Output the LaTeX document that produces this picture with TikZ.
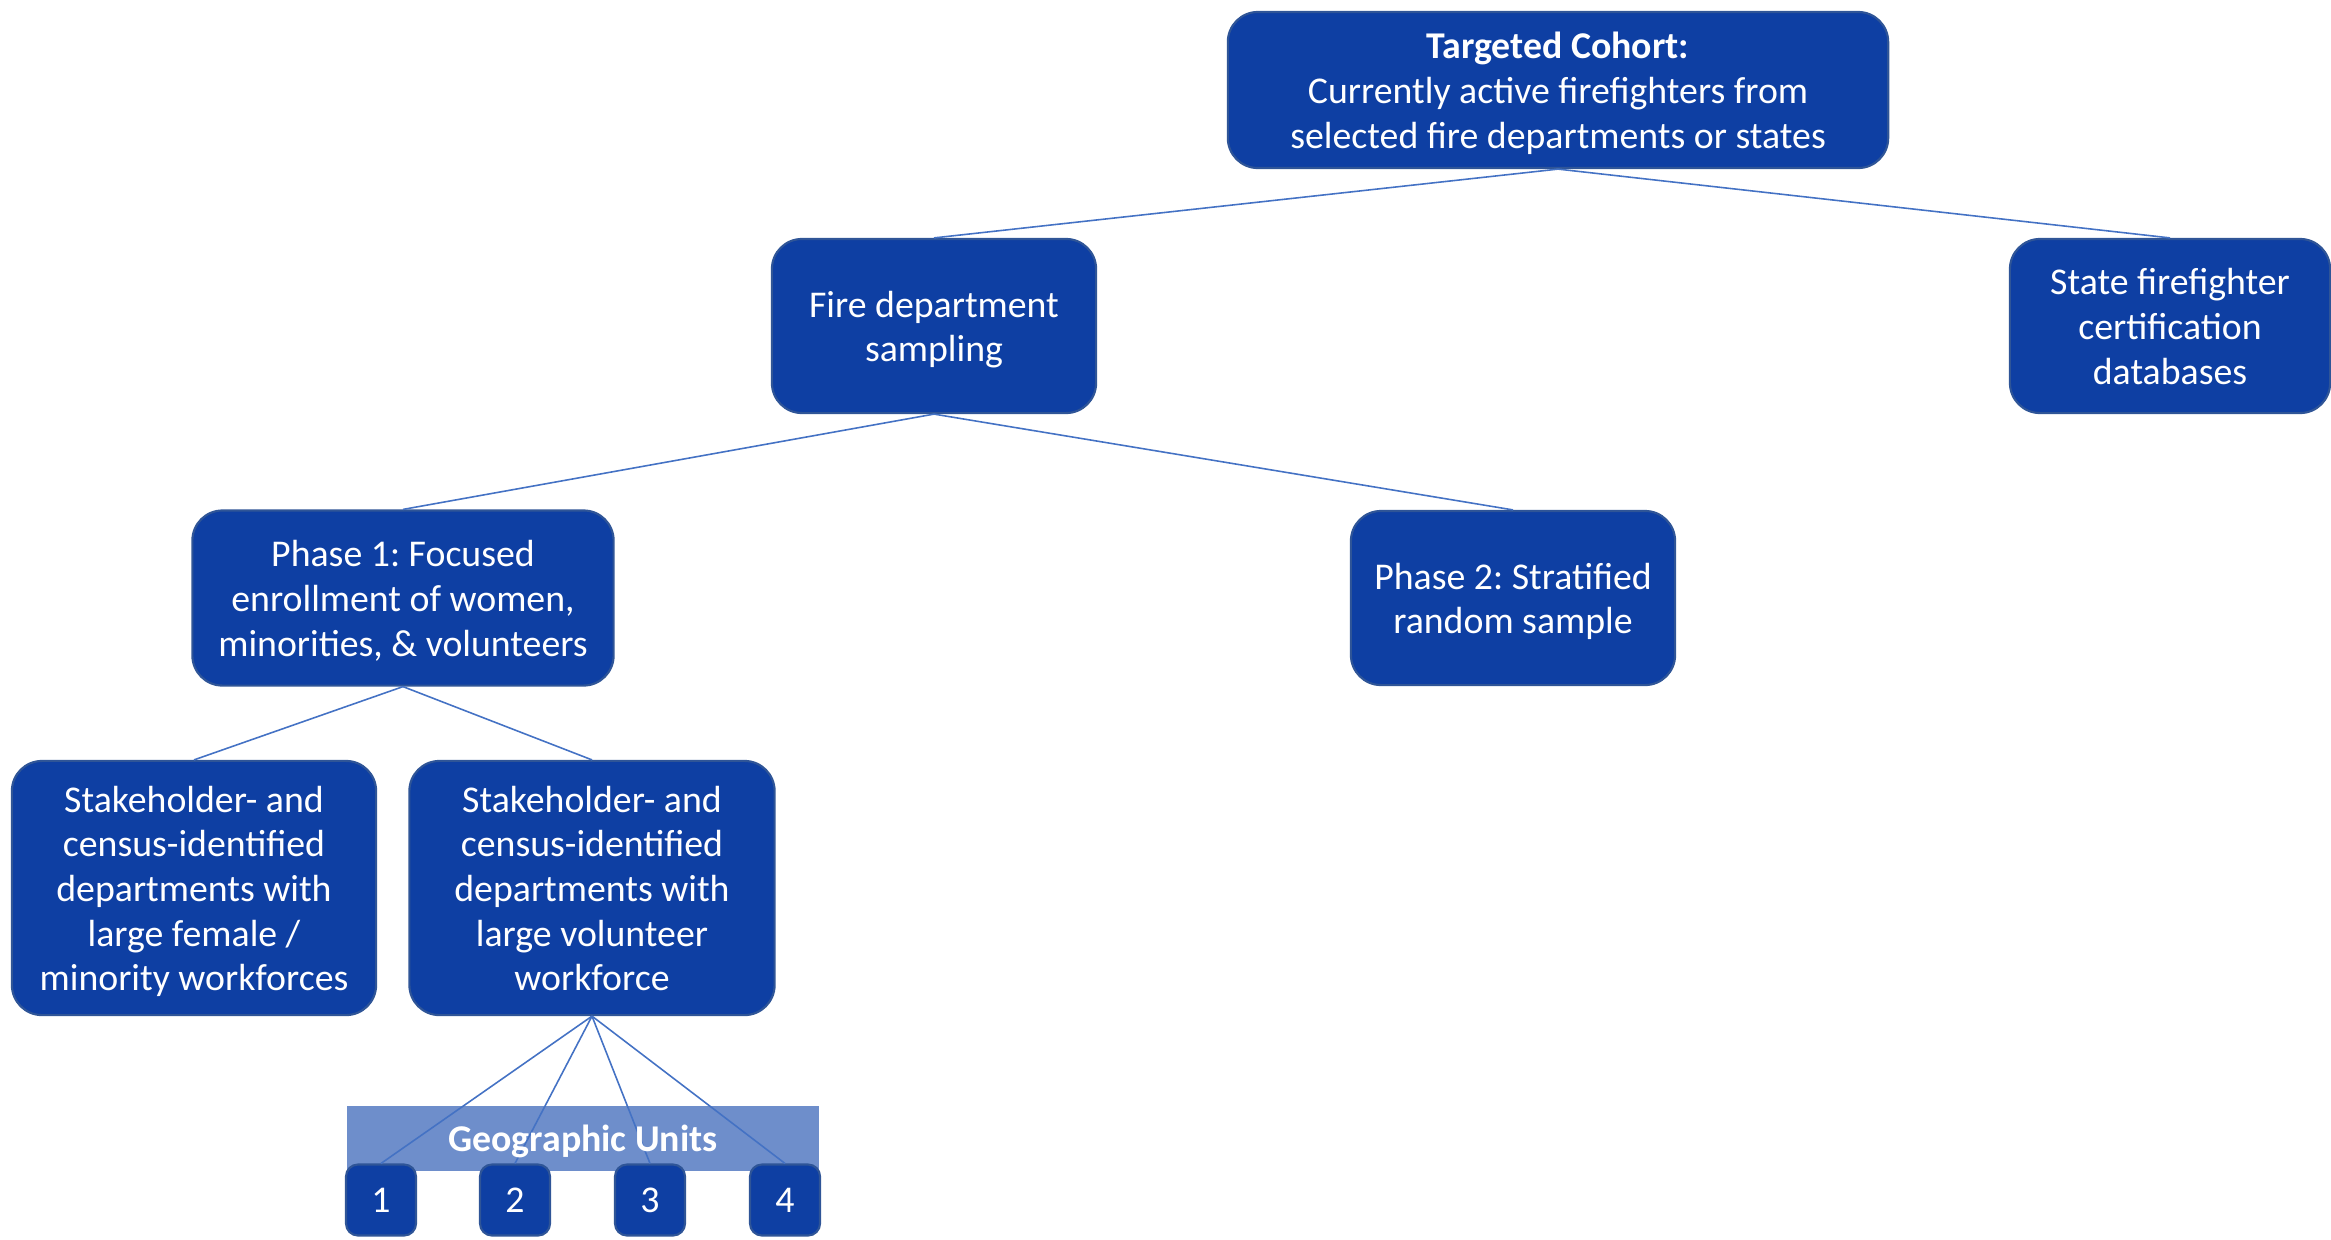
\documentclass[tikz,border=0pt]{standalone}
\usepackage{fontspec}
\setmainfont{Carlito}
\usepackage{tikz}
\frenchspacing

\definecolor{boxblue}{RGB}{14,63,163}
\definecolor{boxedge}{RGB}{47,85,151}
\definecolor{linkblue}{RGB}{68,114,196}
\definecolor{bannerblue}{RGB}{110,142,203}

\newcommand{\boxtext}[1]{\raisebox{-1.3pt}[\height][\depth]{\begin{tabular}{@{}c@{}}#1\end{tabular}}}

\tikzset{
  sbox/.style={draw=boxedge,line width=0.6pt,fill=boxblue,rounded corners=0.3cm,
    text=white,align=center,inner sep=0pt,font=\fontsize{10.75}{12.7}\selectfont},
  ubox/.style={draw=boxedge,line width=0.6pt,fill=boxblue,rounded corners=0.12cm,
    text=white,inner sep=0pt,minimum width=0.70cm,minimum height=0.71cm,
    font=\fontsize{10.75}{12.7}\selectfont},
  link/.style={draw=linkblue,line width=0.45pt}
}

\begin{document}
\begin{tikzpicture}[x=0.01cm,y=-0.01cm]
\useasboundingbox (0,0) rectangle (2331,1239);
% boxes
\node[sbox,minimum width=6.60cm,minimum height=1.56cm](top) at (1558,90)
  {\boxtext{\textbf{Targeted Cohort:}\\Currently active firefighters from\\selected fire departments or states}};
\node[sbox,minimum width=3.24cm,minimum height=1.74cm](firedept) at (934,326)
  {\boxtext{Fire department\\sampling}};
\node[sbox,minimum width=3.20cm,minimum height=1.74cm](state) at (2170,326)
  {\boxtext{State firefighter\\certification\\databases}};
\node[sbox,minimum width=4.21cm,minimum height=1.75cm](phase1) at (403,598)
  {\boxtext{Phase 1: Focused\\enrollment of women,\\minorities, \& volunteers}};
\node[sbox,minimum width=3.24cm,minimum height=1.74cm](phase2) at (1513,598)
  {\boxtext{Phase 2: Stratified\\random sample}};
\node[sbox,minimum width=3.64cm,minimum height=2.54cm](stakeA) at (194,888)
  {\boxtext{Stakeholder- and\\census-identified\\departments with\\large female /\\minority workforces}};
\node[sbox,minimum width=3.65cm,minimum height=2.54cm](stakeB) at (592,888)
  {\boxtext{Stakeholder- and\\census-identified\\departments with\\large volunteer\\workforce}};
% banner
\node[fill=bannerblue,inner sep=0pt,minimum width=4.71cm,minimum height=0.65cm](banner) at (583,1138) {};
% links
\draw[link](top.south)--(firedept.north);
\draw[link](top.south)--(state.north);
\draw[link](firedept.south)--(phase1.north);
\draw[link](firedept.south)--(phase2.north);
\draw[link](phase1.south)--(stakeA.north);
\draw[link](phase1.south)--(stakeB.north);
% units
\node[ubox](u1) at (381,1200) {1};
\node[ubox](u2) at (515,1200) {2};
\node[ubox](u3) at (650,1200) {3};
\node[ubox](u4) at (785,1200) {4};
\draw[link](stakeB.south)--(u1.north);
\draw[link](stakeB.south)--(u2.north);
\draw[link](stakeB.south)--(u3.north);
\draw[link](stakeB.south)--(u4.north);
\node[text=white,font=\fontsize{10.75}{12.7}\selectfont\bfseries](geotext) at (banner.center)
  {\raisebox{-0.85pt}[\height][\depth]{Geographic Units}};
\end{tikzpicture}
\end{document}
